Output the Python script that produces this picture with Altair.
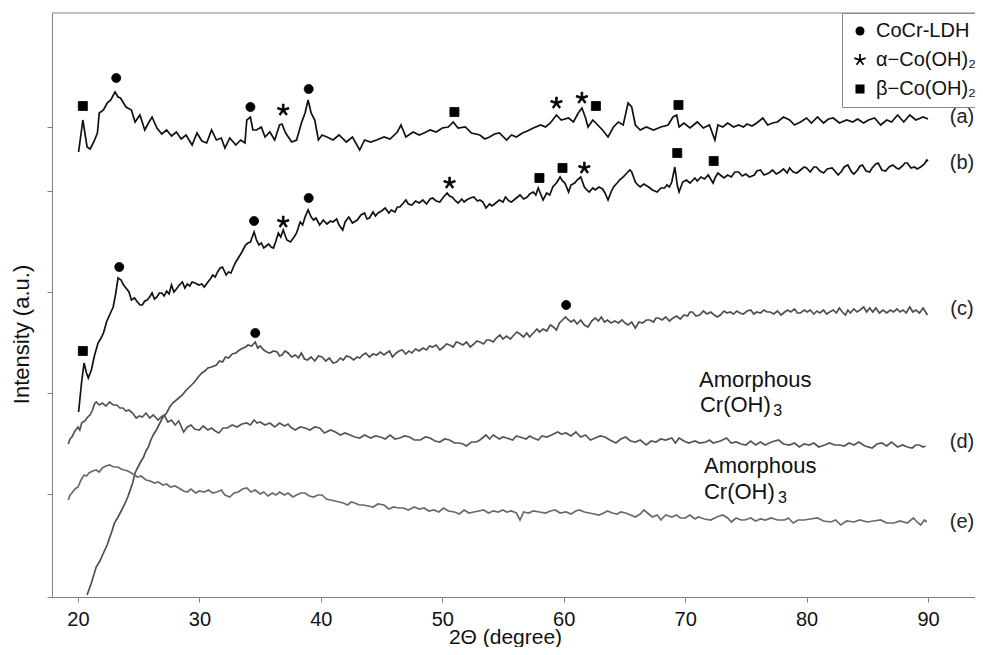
import math
import altair as alt
import pandas as pd

# ---------------- data (2-theta in degrees, intensity in a.u.) ----------------
curve_a = [(20.05,445),(20.4,477),(20.75,450),(21.0,448),(21.3,455),(21.6,464),(21.75,484),(22.1,487),(22.4,494),(22.7,497),(23.05,505),(23.3,500),(23.5,499),(23.95,490),(24.4,487),(24.7,475),(25.1,482),(25.5,467),(25.8,474),(26.1,480),(26.5,469),(26.9,463),(27.3,467),(27.7,461),(28.1,465),(28.5,458),(28.9,462),(29.4,452),(29.8,464),(30.2,456),(30.6,454),(31.0,467),(31.4,457),(31.8,459),(32.1,449),(32.5,459),(33.0,452),(33.4,457),(33.75,454),(33.9,477),(34.2,480),(34.4,467),(34.7,467),(35.1,470),(35.4,460),(35.8,465),(36.2,457),(36.6,472),(36.8,473),(37.1,464),(37.6,455),(38.0,457),(38.4,474),(38.7,484),(38.95,497),(39.2,484),(39.5,477),(39.8,457),(40.1,462),(40.5,460),(41.0,457),(41.5,462),(42.1,455),(42.6,460),(43.2,447),(43.6,457),(44.1,455),(44.6,457),(45.2,460),(45.7,458),(46.3,465),(46.6,472),(47.0,460),(47.6,465),(48.1,462),(48.5,464),(49.0,467),(49.5,465),(50.0,469),(50.5,470),(50.9,475),(51.3,469),(51.9,470),(52.4,464),(53.1,462),(53.5,458),(53.9,460),(54.3,463),(54.7,464),(55.3,457),(55.7,462),(56.1,460),(56.6,464),(57.0,466),(57.5,469),(58.1,472),(58.5,470),(58.9,474),(59.4,482),(59.8,477),(60.4,479),(60.8,475),(61.2,484),(61.5,489),(61.8,479),(62.0,470),(62.4,477),(62.8,472),(63.2,467),(63.65,460),(64.1,470),(64.5,475),(64.9,472),(65.3,494),(65.6,490),(65.9,472),(66.3,467),(66.8,470),(67.4,467),(68.0,470),(68.6,472),(69.0,480),(69.3,482),(69.5,470),(69.9,474),(70.4,469),(71.0,475),(71.5,469),(72.0,472),(72.45,457),(72.7,472),(73.1,470),(73.5,474),(74.0,470),(74.4,472),(74.8,470),(75.1,473),(75.5,471),(75.9,474),(76.4,479),(76.8,472),(77.2,474),(77.6,475),(78.1,480),(78.6,477),(79.0,472),(79.5,475),(80.0,479),(80.4,474),(80.9,480),(81.4,474),(81.8,478),(82.2,479),(82.7,474),(83.3,477),(83.8,475),(84.2,478),(84.7,474),(85.1,477),(85.6,479),(86.1,472),(86.6,477),(87.0,475),(87.5,482),(88.0,475),(88.5,482),(89.0,477),(89.6,480),(90.0,478)]

curve_b = [(20.05,185),(20.3,215),(20.5,234),(20.7,224),(20.85,219),(21.1,227),(21.35,241),(21.65,254),(21.9,259),(22.1,264),(22.35,275),(22.6,282),(22.9,290),(23.1,303),(23.3,319),(23.55,317),(23.75,312),(23.95,309),(24.2,305),(24.4,297),(24.65,299),(24.9,295),(25.1,292),(25.3,292),(25.5,296),(25.7,297),(25.9,300),(26.1,304),(26.3,298),(26.5,300),(26.7,304),(26.9,304),(27.1,301),(27.3,306),(27.5,303),(27.7,312),(27.9,305),(28.1,308),(28.35,312),(28.6,315),(28.8,309),(29.0,313),(29.2,311),(29.4,315),(29.65,314),(29.95,312),(30.2,313),(30.4,310),(30.7,315),(30.9,318),(31.1,322),(31.3,320),(31.5,325),(31.7,329),(31.9,330),(32.2,322),(32.4,325),(32.6,324),(32.8,330),(33.0,335),(33.2,339),(33.5,345),(33.8,352),(34.0,354),(34.2,355),(34.5,365),(34.7,357),(34.9,352),(35.1,354),(35.3,349),(35.5,351),(35.7,353),(35.9,350),(36.1,349),(36.3,356),(36.5,364),(36.7,360),(36.9,367),(37.2,357),(37.5,355),(37.8,360),(38.0,364),(38.3,375),(38.5,372),(38.7,380),(38.95,387),(39.2,380),(39.4,377),(39.6,379),(39.9,372),(40.2,377),(40.5,373),(40.8,376),(41.0,375),(41.3,378),(41.5,372),(41.8,367),(42.0,375),(42.3,380),(42.6,374),(43.0,377),(43.3,382),(43.6,384),(43.8,378),(44.0,379),(44.3,385),(44.5,381),(44.7,384),(45.0,386),(45.3,389),(45.6,384),(45.8,387),(46.1,385),(46.3,390),(46.5,390),(46.8,394),(47.0,397),(47.2,393),(47.5,392),(47.8,396),(48.1,394),(48.4,397),(48.7,393),(49.0,398),(49.2,399),(49.5,396),(49.8,395),(50.1,400),(50.4,404),(50.6,401),(50.8,400),(51.1,396),(51.3,394),(51.6,398),(51.8,395),(52.0,397),(52.3,399),(52.6,400),(52.9,396),(53.1,397),(53.35,395),(53.6,389),(53.9,393),(54.1,391),(54.4,394),(54.7,397),(55.0,395),(55.2,400),(55.5,396),(55.7,395),(56.0,398),(56.2,400),(56.4,402),(56.7,398),(57.0,400),(57.2,403),(57.5,405),(57.7,402),(57.9,409),(58.1,403),(58.3,397),(58.6,404),(58.85,402),(59.1,410),(59.4,414),(59.7,420),(59.9,416),(60.1,414),(60.4,405),(60.6,412),(60.9,414),(61.1,417),(61.4,420),(61.7,410),(61.9,407),(62.1,405),(62.4,409),(62.6,407),(62.9,410),(63.2,408),(63.4,404),(63.65,397),(63.9,405),(64.1,410),(64.4,414),(64.6,417),(64.9,420),(65.2,424),(65.45,427),(65.6,425),(65.9,415),(66.1,412),(66.3,410),(66.6,413),(67.0,410),(67.3,407),(67.7,405),(68.0,409),(68.3,409),(68.5,412),(68.7,410),(68.9,415),(69.15,430),(69.35,412),(69.5,405),(69.8,415),(70.1,417),(70.4,414),(70.8,419),(71.0,416),(71.3,420),(71.6,418),(71.9,422),(72.1,418),(72.3,414),(72.5,420),(72.7,424),(73.0,421),(73.2,419),(73.5,422),(73.8,420),(74.1,425),(74.4,425),(74.7,421),(75.0,423),(75.3,420),(75.7,422),(75.9,426),(76.2,427),(76.5,422),(76.9,424),(77.2,427),(77.5,423),(77.8,425),(78.1,428),(78.4,424),(78.6,429),(78.9,425),(79.2,424),(79.5,427),(79.8,430),(80.0,429),(80.3,425),(80.6,430),(80.8,430),(81.1,426),(81.4,424),(81.7,428),(82.1,429),(82.4,425),(82.6,422),(82.9,426),(83.1,430),(83.4,432),(83.7,425),(83.9,423),(84.2,427),(84.4,431),(84.6,432),(84.9,426),(85.2,425),(85.4,429),(85.7,433),(85.9,434),(86.2,427),(86.5,426),(86.8,430),(87.1,432),(87.4,429),(87.6,428),(87.9,431),(88.1,434),(88.3,434),(88.6,429),(88.9,430),(89.1,428),(89.4,430),(89.7,433),(89.9,437),(90.0,436)]

curve_c = [(20.75,2),(21.1,14),(21.5,30),(21.8,36),(22.1,44),(22.4,52),(22.6,59),(22.8,66),(23.0,74),(23.3,80),(23.6,87),(23.85,93),(24.1,100),(24.3,107),(24.5,114),(24.7,124),(24.9,129),(25.2,136),(25.4,140),(25.6,146),(25.8,150),(26.0,157),(26.2,162),(26.5,168),(26.75,174),(27.0,180),(27.3,184),(27.55,190),(27.8,194),(28.2,198),(28.6,202),(28.85,206),(29.1,209),(29.35,212),(29.6,215),(29.9,220),(30.2,224),(30.45,226),(30.7,229),(31.0,230),(31.4,232),(31.65,236),(31.9,235),(32.15,240),(32.4,239),(32.7,243),(33.0,244),(33.3,247),(33.6,249),(33.8,250),(34.0,252),(34.3,251),(34.6,255),(34.8,249),(35.0,251),(35.3,247),(35.55,245),(35.8,244),(36.1,246),(36.4,245),(36.6,241),(36.8,242),(37.05,246),(37.3,244),(37.6,240),(37.9,242),(38.15,239),(38.4,244),(38.65,238),(38.9,237),(39.2,240),(39.5,236),(39.8,241),(40.1,240),(40.4,236),(40.7,239),(41.0,234),(41.3,235),(41.6,239),(41.85,237),(42.1,241),(42.4,240),(42.7,237),(43.0,240),(43.2,239),(43.45,242),(43.7,244),(44.0,240),(44.3,243),(44.6,242),(44.9,245),(45.2,242),(45.4,244),(45.65,246),(45.9,240),(46.2,244),(46.45,246),(46.7,247),(47.0,243),(47.25,246),(47.5,244),(47.8,248),(48.1,246),(48.4,249),(48.7,247),(48.95,251),(49.2,250),(49.5,252),(49.8,247),(50.1,250),(50.35,253),(50.6,252),(50.9,250),(51.15,255),(51.4,254),(51.7,252),(52.0,255),(52.3,250),(52.6,253),(52.85,256),(53.1,255),(53.4,253),(53.65,257),(53.9,257),(54.2,255),(54.45,259),(54.75,262),(55.0,258),(55.3,261),(55.6,258),(55.9,262),(56.15,265),(56.4,263),(56.7,260),(56.95,264),(57.2,260),(57.5,264),(57.8,268),(58.0,265),(58.3,268),(58.6,266),(58.9,272),(59.15,270),(59.4,267),(59.65,274),(59.9,277),(60.15,280),(60.3,278),(60.6,275),(60.85,277),(61.1,273),(61.4,277),(61.7,272),(62.0,270),(62.3,276),(62.6,279),(62.85,276),(63.1,280),(63.35,275),(63.6,277),(63.9,274),(64.2,276),(64.5,274),(64.8,277),(65.05,274),(65.3,272),(65.6,275),(65.9,269),(66.2,275),(66.5,274),(66.8,277),(67.1,277),(67.4,275),(67.6,279),(67.8,279),(68.1,277),(68.4,280),(68.7,276),(69.0,279),(69.3,281),(69.6,278),(69.9,282),(70.2,281),(70.4,285),(70.6,285),(70.9,281),(71.2,282),(71.5,286),(71.8,283),(72.1,285),(72.4,282),(72.65,280),(72.9,282),(73.2,286),(73.45,284),(73.7,285),(74.0,283),(74.25,286),(74.5,284),(74.8,283),(75.1,286),(75.4,287),(75.65,283),(75.9,285),(76.2,284),(76.5,287),(76.75,285),(77.0,285),(77.3,283),(77.6,286),(77.9,282),(78.2,285),(78.45,287),(78.7,285),(79.0,288),(79.25,284),(79.5,284),(79.8,287),(80.05,285),(80.3,287),(80.6,283),(80.85,286),(81.1,284),(81.4,287),(81.65,283),(81.9,285),(82.2,287),(82.45,284),(82.7,289),(82.95,285),(83.2,282),(83.4,287),(83.6,284),(83.9,288),(84.15,285),(84.4,287),(84.7,290),(84.95,285),(85.2,289),(85.45,285),(85.7,289),(86.0,284),(86.3,287),(86.6,284),(86.9,287),(87.15,285),(87.45,288),(87.7,285),(87.95,287),(88.2,284),(88.5,290),(88.75,285),(89.0,287),(89.3,284),(89.6,289),(89.8,285),(89.95,282)]

curve_d = [(19.2,153),(19.35,158),(19.5,160),(19.75,166),(20.0,170),(20.15,167),(20.3,174),(20.55,176),(20.8,180),(21.0,182),(21.2,187),(21.35,193),(21.5,195),(21.75,192),(22.0,194),(22.3,191),(22.6,195),(22.9,192),(23.2,192),(23.45,189),(23.7,189),(23.95,186),(24.2,187),(24.5,184),(24.8,179),(25.05,181),(25.3,180),(25.6,184),(25.9,179),(26.2,182),(26.6,177),(26.85,180),(27.1,182),(27.4,175),(27.7,177),(28.0,172),(28.3,176),(28.7,165),(29.0,170),(29.3,172),(29.6,168),(30.0,167),(30.3,171),(30.7,167),(31.0,169),(31.3,166),(31.6,164),(31.95,169),(32.3,169),(32.7,172),(33.1,170),(33.5,173),(33.9,174),(34.2,172),(34.5,177),(34.75,174),(35.0,175),(35.4,172),(35.8,174),(36.2,170),(36.6,174),(37.0,171),(37.3,173),(37.5,170),(37.9,167),(38.3,170),(38.7,169),(39.1,167),(39.5,170),(39.9,169),(40.3,164),(40.8,167),(41.2,165),(41.6,162),(42.0,164),(42.4,162),(42.8,160),(43.2,159),(43.6,162),(44.1,159),(44.5,161),(44.9,160),(45.3,158),(45.7,162),(46.1,158),(46.5,159),(46.9,161),(47.3,160),(47.7,157),(48.2,157),(48.6,160),(49.0,159),(49.4,156),(49.8,155),(50.2,158),(50.6,157),(51.0,154),(51.4,154),(51.7,153),(52.0,151),(52.4,155),(52.8,155),(53.1,157),(53.6,162),(53.9,158),(54.2,162),(54.7,158),(55.0,160),(55.3,159),(55.8,157),(56.1,161),(56.4,160),(56.9,158),(57.2,161),(57.5,159),(57.9,157),(58.2,161),(58.6,160),(59.0,162),(59.5,165),(59.8,163),(60.2,164),(60.6,161),(61.0,165),(61.4,160),(61.8,162),(62.2,157),(62.6,159),(63.0,161),(63.4,160),(63.8,157),(64.3,154),(64.7,158),(65.1,160),(65.5,156),(65.9,155),(66.3,157),(66.8,152),(67.2,156),(67.6,155),(68.0,158),(68.4,157),(68.9,159),(69.2,154),(69.5,159),(69.9,156),(70.3,154),(70.8,156),(71.2,154),(71.7,155),(72.0,157),(72.3,154),(72.9,156),(73.4,159),(73.8,154),(74.2,155),(74.6,153),(75.0,152),(75.4,156),(75.8,152),(76.2,155),(76.6,152),(77.1,155),(77.7,157),(78.1,153),(78.6,152),(79.0,154),(79.4,150),(79.8,153),(80.2,152),(80.6,154),(81.0,150),(81.5,152),(81.9,154),(82.3,152),(82.7,152),(83.1,151),(83.5,154),(83.9,152),(84.3,155),(84.8,151),(85.4,149),(85.8,153),(86.2,154),(86.6,151),(87.0,155),(87.5,150),(87.9,152),(88.3,150),(88.7,149),(89.0,152),(89.3,152),(89.6,150),(89.8,151)]

curve_e = [(19.2,97),(19.35,102),(19.5,104),(19.75,108),(20.0,110),(20.25,117),(20.5,122),(20.7,121),(20.9,124),(21.2,126),(21.5,127),(21.75,125),(22.0,129),(22.3,131),(22.6,132),(22.95,130),(23.3,130),(23.55,128),(23.8,127),(24.1,126),(24.4,124),(24.65,122),(24.9,120),(25.2,121),(25.6,117),(25.95,116),(26.3,114),(26.6,115),(27.0,112),(27.3,113),(27.6,110),(28.0,111),(28.3,109),(28.7,106),(29.0,105),(29.3,108),(29.7,104),(30.0,106),(30.4,105),(30.75,107),(31.1,104),(31.45,105),(31.8,107),(32.1,102),(32.5,100),(32.85,104),(33.2,105),(33.55,108),(33.9,109),(34.25,105),(34.6,107),(35.0,103),(35.3,105),(35.65,101),(36.0,104),(36.3,102),(36.6,105),(37.0,102),(37.3,104),(37.7,100),(38.0,102),(38.35,104),(38.7,104),(39.05,101),(39.4,100),(39.75,102),(40.1,102),(40.45,98),(40.8,97),(41.15,96),(41.5,95),(41.85,94),(42.2,92),(42.5,95),(42.8,94),(43.15,92),(43.5,92),(43.9,91),(44.3,90),(44.7,93),(45.2,92),(45.6,88),(46.0,90),(46.4,89),(46.8,89),(47.2,87),(47.7,90),(48.1,88),(48.5,89),(48.9,86),(49.3,87),(49.7,85),(50.1,89),(50.5,86),(51.0,85),(51.4,83),(51.8,87),(52.2,84),(52.6,85),(53.0,86),(53.4,87),(53.8,84),(54.2,86),(54.6,85),(55.0,87),(55.3,85),(55.7,86),(56.1,84),(56.4,77),(56.7,85),(57.1,84),(57.5,86),(58.0,85),(58.5,84),(58.9,86),(59.3,87),(59.7,84),(60.2,85),(60.6,83),(61.0,86),(61.3,87),(61.7,85),(62.1,84),(62.5,83),(62.9,82),(63.3,84),(63.6,86),(64.0,84),(64.4,83),(64.7,85),(65.1,84),(65.5,82),(65.9,80),(66.3,83),(66.6,87),(67.0,83),(67.3,80),(67.7,82),(68.0,77),(68.4,82),(68.9,80),(69.3,82),(69.6,79),(70.0,79),(70.4,82),(70.8,78),(71.1,80),(71.6,78),(72.1,77),(72.6,80),(73.1,82),(73.5,79),(73.8,75),(74.2,79),(74.6,77),(74.9,77),(75.4,79),(75.8,76),(76.2,78),(76.6,77),(77.1,79),(77.6,77),(78.2,77),(78.5,79),(78.9,74),(79.3,77),(79.8,77),(80.3,78),(80.9,79),(81.4,76),(82.0,75),(82.4,77),(82.8,72),(83.3,76),(83.9,75),(84.4,77),(85.0,75),(85.5,76),(86.1,77),(86.6,74),(87.2,74),(87.7,76),(88.3,74),(88.8,79),(89.1,75),(89.4,72),(89.7,77),(89.9,75)]

# phase markers: (phase, 2theta, intensity)
PHASES = ["CoCr-LDH", "\u03b1\u2212Co(OH)\u2082", "\u03b2\u2212Co(OH)\u2082"]
markers = [
    (PHASES[2], 20.4, 491), (PHASES[0], 23.15, 519), (PHASES[0], 34.2, 490), (PHASES[1], 36.9, 487),
    (PHASES[0], 39.0, 508), (PHASES[2], 51.0, 485), (PHASES[1], 59.4, 494), (PHASES[1], 61.5, 499),
    (PHASES[2], 62.65, 491), (PHASES[2], 69.45, 492),
    (PHASES[2], 20.4, 246), (PHASES[0], 23.4, 330), (PHASES[0], 34.5, 376), (PHASES[1], 36.9, 375),
    (PHASES[0], 39.0, 399), (PHASES[1], 50.6, 414), (PHASES[2], 58.0, 419), (PHASES[2], 59.9, 429),
    (PHASES[1], 61.7, 429), (PHASES[2], 69.35, 444), (PHASES[2], 72.35, 436),
    (PHASES[0], 34.6, 264), (PHASES[0], 60.2, 292),
]

curve_names = ["a", "b", "c", "d", "e"]
curve_colors = ["#111111", "#111111", "#4f4f4f", "#555555", "#6a6a6a"]
curve_labels = ["(a)", "(b)", "(c)", "(d)", "(e)"]
label_x = [92.8, 92.8, 92.8, 92.8, 92.8]
label_y = [480, 434, 288, 155, 75]

notes_main = ["Amorphous", "Cr(OH)", "Amorphous", "Cr(OH)"]
notes_main_x = [71.14, 71.22, 71.55, 71.55]
notes_main_y = [210, 185, 124, 98]
notes_sub = ["3", "3"]
notes_sub_x = [77.25, 77.65]
notes_sub_y = [181, 94]

y_ticks = [0, 103, 204, 305, 406, 470]
x_ticks = [20, 30, 40, 50, 60, 70, 80, 90]

# ---------------- build tables ----------------
frames = []
for name, pts in zip(curve_names, [curve_a, curve_b, curve_c, curve_d, curve_e]):
    df = pd.DataFrame(pts, columns=["x", "y"])
    df["curve"] = name
    frames.append(df)
lines_df = pd.concat(frames, ignore_index=True)
markers_df = pd.DataFrame(markers, columns=["phase", "x", "y"])
labels_df = pd.DataFrame({"x": label_x, "y": label_y, "t": curve_labels})
notes_df = pd.DataFrame({"x": notes_main_x, "y": notes_main_y, "t": notes_main})
subs_df = pd.DataFrame({"x": notes_sub_x, "y": notes_sub_y, "t": notes_sub})


def asterisk_path(arms=5, r=1.3, w=0.19):
    """Filled five-armed asterisk glyph as an SVG path in the unit symbol box."""
    gap = math.pi / arms
    d = w / math.sin(gap)
    pts = []
    for k in range(arms):
        a = -math.pi / 2 + 2 * gap * k
        ux, uy = math.cos(a), math.sin(a)
        px, py = -uy, ux
        pts.append((r * ux - w * px, r * uy - w * py))
        pts.append((r * ux + w * px, r * uy + w * py))
        pts.append((d * math.cos(a + gap), d * math.sin(a + gap)))
    return "M" + "L".join(f"{x:.3f},{y:.3f}" for x, y in pts) + "Z"


W, H = 923, 584
FONT = "Liberation Sans"
AX = "#808080"

X = alt.X("x:Q",
          scale=alt.Scale(domain=[17.86, 93.87], nice=False, zero=False),
          axis=alt.Axis(values=x_ticks, title="2\u0398 (degree)", grid=False,
                        tickSize=5, domainColor=AX, tickColor=AX, labelColor="#111",
                        labelFontSize=20, labelFont=FONT, labelBaseline="alphabetic",
                        labelPadding=23, labelFlush=False,
                        titleFontSize=21, titleFont=FONT, titleFontWeight="normal",
                        titleColor="#111", titleX=453, titleY=46,
                        titleBaseline="alphabetic", titleAlign="center"))
Y = alt.Y("y:Q",
          scale=alt.Scale(domain=[0, 584], nice=False, zero=False),
          axis=alt.Axis(values=y_ticks, labels=False, title="Intensity (a.u.)", grid=False,
                        tickSize=5, domainColor=AX, tickColor=AX,
                        titleFontSize=22, titleFont=FONT, titleFontWeight="normal",
                        titleColor="#111", titleAngle=270, titleX=-24, titleY=321,
                        titleAlign="center", titleBaseline="alphabetic"))

border = alt.Chart(pd.DataFrame({"k": [0]})).mark_rule(color=AX, strokeWidth=1).encode(
    x=alt.value(0), x2=alt.value(W), y=alt.value(0))

lines = alt.Chart(lines_df).mark_line(strokeWidth=1.7, clip=True).encode(
    x=X, y=Y,
    color=alt.Color("curve:N", scale=alt.Scale(domain=curve_names, range=curve_colors), legend=None),
    detail="curve:N",
)

pts = alt.Chart(markers_df).mark_point(filled=True, fill="black", stroke="black",
                                       strokeWidth=0.8, opacity=1, size=82).encode(
    x=X, y=Y,
    shape=alt.Shape("phase:N",
                    scale=alt.Scale(domain=PHASES, range=["circle", asterisk_path(), "square"]),
                    legend=alt.Legend(title=None, orient="none", legendX=790, legendY=0,
                                      direction="vertical", labelFontSize=20, labelFont=FONT,
                                      labelColor="#111", padding=8, rowPadding=9,
                                      symbolSize=82, symbolFillColor="black",
                                      symbolStrokeColor="black", symbolStrokeWidth=0.8,
                                      symbolOpacity=1, strokeColor="#888", fillColor="white",
                                      labelOffset=6, labelLimit=400, cornerRadius=0)),
)

labels = alt.Chart(labels_df).mark_text(fontSize=20, font=FONT, align="center",
                                        baseline="middle", color="#222").encode(
    x=X, y=Y, text="t:N")
notes = alt.Chart(notes_df).mark_text(fontSize=22, font=FONT, align="left",
                                      baseline="alphabetic", color="#111").encode(
    x=X, y=Y, text="t:N")
subs = alt.Chart(subs_df).mark_text(fontSize=16, font=FONT, align="left",
                                    baseline="alphabetic", color="#111").encode(
    x=X, y=Y, text="t:N")

chart = alt.layer(border, lines, pts, labels, notes, subs).properties(
    width=W, height=H,
    autosize=alt.AutoSizeParams(type="none"),
    padding={"left": 44, "top": 5, "right": 0, "bottom": 50},
).configure(font=FONT).configure_view(stroke=None)

chart.save("out.html", embed_options={"renderer": "svg", "actions": False})
